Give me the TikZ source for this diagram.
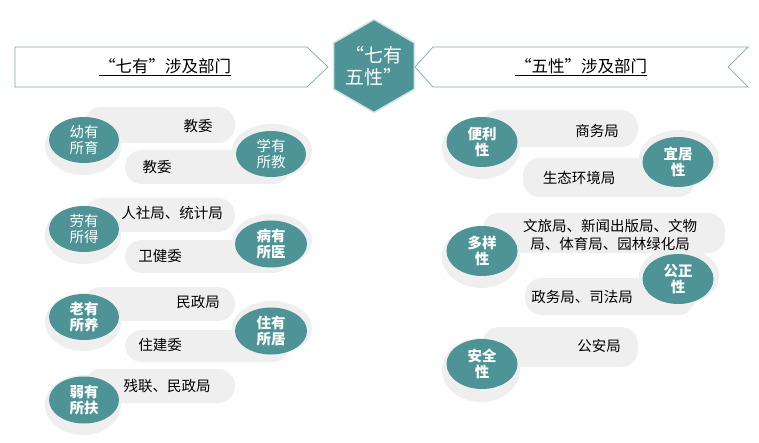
\documentclass[tikz,border=0pt]{standalone}
\usepackage{fontspec}
\setmainfont{Noto Sans CJK SC}
\usetikzlibrary{shapes.geometric}
\definecolor{tealgoal}{HTML}{4E9496}
\definecolor{pillgray}{HTML}{EFEFEF}
\definecolor{bannerline}{HTML}{7BABAE}

\begin{document}
\begin{tikzpicture}[x=1pt, y=-1pt,
  hub/.style={regular polygon, regular polygon sides=6, shape border rotate=90, minimum size=93pt, inner sep=0pt,
    fill=tealgoal, draw=tealgoal!25, line width=1.5pt, text=white, align=center, font=\fontsize{19}{22}\selectfont},
  banner/.style={draw=bannerline, line width=0.7pt, fill=white},
  bannertext/.style={font=\fontsize{16.5}{19}\selectfont},
  pill/.style={fill=pillgray, rounded corners=17pt},
  halo/.style={fill=pillgray},
  goal/.style={ellipse, minimum width=70pt, minimum height=46pt, inner sep=0pt, fill=tealgoal, text=white,
    align=center, font=\fontsize{14.5}{16.5}\selectfont},
  goalb/.style={goal, minimum width=71pt, minimum height=50pt, font=\fontsize{14.5}{16.5}\selectfont\bfseries},
  dept/.style={align=center, font=\fontsize{14.5}{18}\selectfont}
]
\useasboundingbox (0,0) rectangle (759,443);

% Banners and hub
\draw[banner] (15,47) -- (307,47) -- (328,67) -- (307,87) -- (15,87) -- cycle;
\draw[banner] (433,47) -- (748,47) -- (728,67) -- (748,87) -- (433,87) -- (415,67) -- cycle;
\node[bannertext] (seventitle) at (165,67) {\underline{“七有”涉及部门}};
\node[bannertext] (fivetitle) at (581,67) {\underline{“五性”涉及部门}};
\node[hub] (hub) at (374,66) {“七有\\五性”};

% Left column: seven "haves"
\fill[halo] (83,146) ellipse (38 and 29);
\fill[halo] (272,151) ellipse (40 and 27);
\fill[pill] (84,107) rectangle (235,143);
\fill[pill] (125,150) rectangle (290,184);
\node[goal] (youyu) at (84,140) {幼有\\所育};
\node[goal] (xueyou) at (271,154) {学有\\所教};
\node[dept] (youyu-d) at (198,126) {教委};
\node[dept] (xueyou-d) at (157,167) {教委};

\fill[halo] (83,235) ellipse (38 and 29);
\fill[halo] (272,241) ellipse (40 and 27);
\fill[pill] (84,198) rectangle (235,232);
\fill[pill] (125,240) rectangle (290,273);
\node[goal] (laoyou) at (84,229) {劳有\\所得};
\node[goalb, minimum width=72pt, minimum height=47pt] (bingyou) at (271,244) {病有\\所医};
\node[dept] (laoyou-d) at (172,213) {人社局、统计局};
\node[dept] (bingyou-d) at (160,256) {卫健委};

\fill[halo] (83,322) ellipse (38 and 29);
\fill[halo] (272,328) ellipse (40 and 27);
\fill[pill] (84,287) rectangle (235,321);
\fill[pill] (125,330) rectangle (290,362);
\node[goalb, minimum width=70pt, minimum height=46pt] (yangyou) at (84,317) {老有\\所养};
\node[goalb, minimum width=72pt, minimum height=47pt] (zhuyou) at (271,331) {住有\\所居};
\node[dept] (yangyou-d) at (198,302) {民政局};
\node[dept] (zhuyou-d) at (160,345) {住建委};

\fill[halo] (83,405) ellipse (38 and 30);
\fill[pill] (84,369) rectangle (235,403);
\node[goalb, minimum width=70pt, minimum height=47pt] (ruoyou) at (84,400) {弱有\\所扶};
\node[dept] (ruoyou-d) at (167,386) {残联、民政局};

% Right column: five qualities
\fill[halo] (481,148) ellipse (39 and 31);
\fill[halo] (679,159) ellipse (40 and 29);
\fill[pill] (482,110) rectangle (638,147);
\fill[pill] (523,158) rectangle (695,197);
\node[goalb] (bianli) at (482,142) {便利\\性};
\node[goalb] (yiju) at (678,162) {宜居\\性};
\node[dept] (bianli-d) at (597,131) {商务局};
\node[dept] (yiju-d) at (579,178) {生态环境局};

\fill[halo] (481,257) ellipse (39 and 31);
\fill[halo] (679,276) ellipse (40 and 29);
\fill[pill] (482,213) rectangle (725,253);
\fill[pill] (525,278) rectangle (695,315);
\node[goalb] (duoyang) at (482,251) {多样\\性};
\node[goalb] (gongzheng) at (678,279) {公正\\性};
\node[dept] (duoyang-d) at (610,235) {文旅局、新闻出版局、文物\\局、体育局、园林绿化局};
\node[dept] (gongzheng-d) at (582,297) {政务局、司法局};

\fill[halo] (481,370) ellipse (39 and 32);
\fill[pill] (482,327) rectangle (638,367);
\node[goalb] (anquan) at (482,364) {安全\\性};
\node[dept] (anquan-d) at (599,346) {公安局};
\end{tikzpicture}
\end{document}
